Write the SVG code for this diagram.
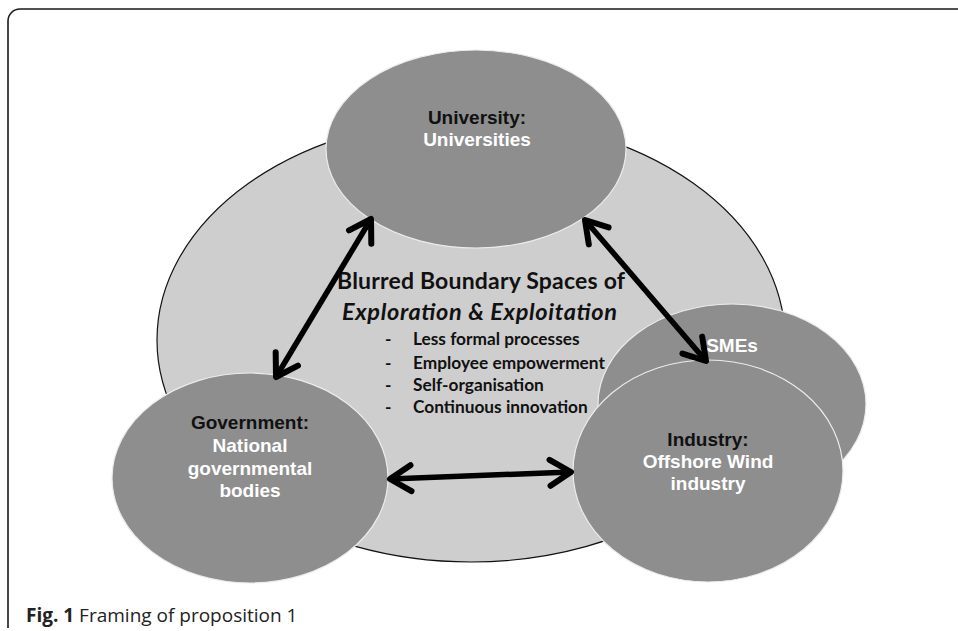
<svg xmlns="http://www.w3.org/2000/svg" width="958" height="631" viewBox="0 0 958 631">
  <defs>
    <marker id="head" markerUnits="userSpaceOnUse" markerWidth="40" markerHeight="40" viewBox="-30 -20 40 40" refX="0" refY="0" orient="auto-start-reverse">
      <path d="M -21 -13 L 0 0 L -21 13" fill="none" stroke="#000" stroke-width="6" stroke-linecap="round" stroke-linejoin="round"/>
    </marker>
  </defs>
  <style>
    .node { fill: #8e8e8e; stroke: #ececec; stroke-width: 1.2; }
    .lbl { font-family: "Liberation Sans", Arial, sans-serif; font-weight: bold; font-size: 19px; text-anchor: middle; }
    .dark { fill: #111; }
    .light { fill: #fff; }
    .conn { fill: none; stroke: #000; stroke-width: 5.5; marker-start: url(#head); marker-end: url(#head); }
    .ctr { font-family: Lato, "Open Sans", sans-serif; font-weight: bold; fill: #111; }
  </style>
  <rect width="958" height="631" fill="#fff"/>
  <path d="M 8 628 V 21 A 12 12 0 0 1 20 9 H 958" fill="none" stroke="#1a1a1a" stroke-width="1.6"/>

  <g id="space">
    <ellipse cx="471" cy="340" rx="314" ry="222" fill="#cecece" stroke="#111" stroke-width="1.2"/>
  </g>

  <g id="university">
    <ellipse class="node" cx="476" cy="149" rx="150" ry="99"/>
    <text class="lbl dark" x="477" y="124">University:</text>
    <text class="lbl light" x="477" y="146">Universities</text>
  </g>

  <g id="government">
    <ellipse class="node" cx="250" cy="478" rx="138" ry="105"/>
    <text class="lbl dark" x="250" y="429">Government:</text>
    <text class="lbl light" x="250" y="452">National</text>
    <text class="lbl light" x="250" y="475">governmental</text>
    <text class="lbl light" x="250" y="497">bodies</text>
  </g>

  <g id="blurred-space-text">
    <text class="ctr" x="337" y="289" font-size="23" textLength="288">Blurred Boundary Spaces of</text>
    <text class="ctr" x="342" y="320" font-size="23.5" font-style="italic" textLength="275">Exploration &amp; Exploitation</text>
    <g font-size="17.3">
      <text class="ctr" x="385" y="345">-</text>
      <text class="ctr" x="413" y="345">Less formal processes</text>
      <text class="ctr" x="385" y="369">-</text>
      <text class="ctr" x="413" y="369">Employee empowerment</text>
      <text class="ctr" x="385" y="391">-</text>
      <text class="ctr" x="413" y="391">Self-organisation</text>
      <text class="ctr" x="385" y="413">-</text>
      <text class="ctr" x="413" y="413">Continuous innovation</text>
    </g>
  </g>

  <g id="smes">
    <ellipse class="node" cx="732" cy="404" rx="134" ry="100"/>
    <text class="lbl light" x="732" y="352">SMEs</text>
  </g>

  <g id="industry">
    <ellipse class="node" cx="708" cy="471" rx="135" ry="111"/>
    <text class="lbl dark" x="708" y="446">Industry:</text>
    <text class="lbl light" x="708" y="468">Offshore Wind</text>
    <text class="lbl light" x="708" y="490">industry</text>
  </g>

  <g id="connectors">
    <path class="conn" d="M 276 377 L 371 219"/>
    <path class="conn" d="M 585 220 L 706 361"/>
    <path class="conn" d="M 390 479 L 571 472"/>
  </g>

  <text x="26" y="622" font-family="'Open Sans', 'Noto Sans', sans-serif" font-size="19" fill="#222"><tspan font-weight="bold">Fig. 1</tspan> Framing of proposition 1</text>
</svg>
